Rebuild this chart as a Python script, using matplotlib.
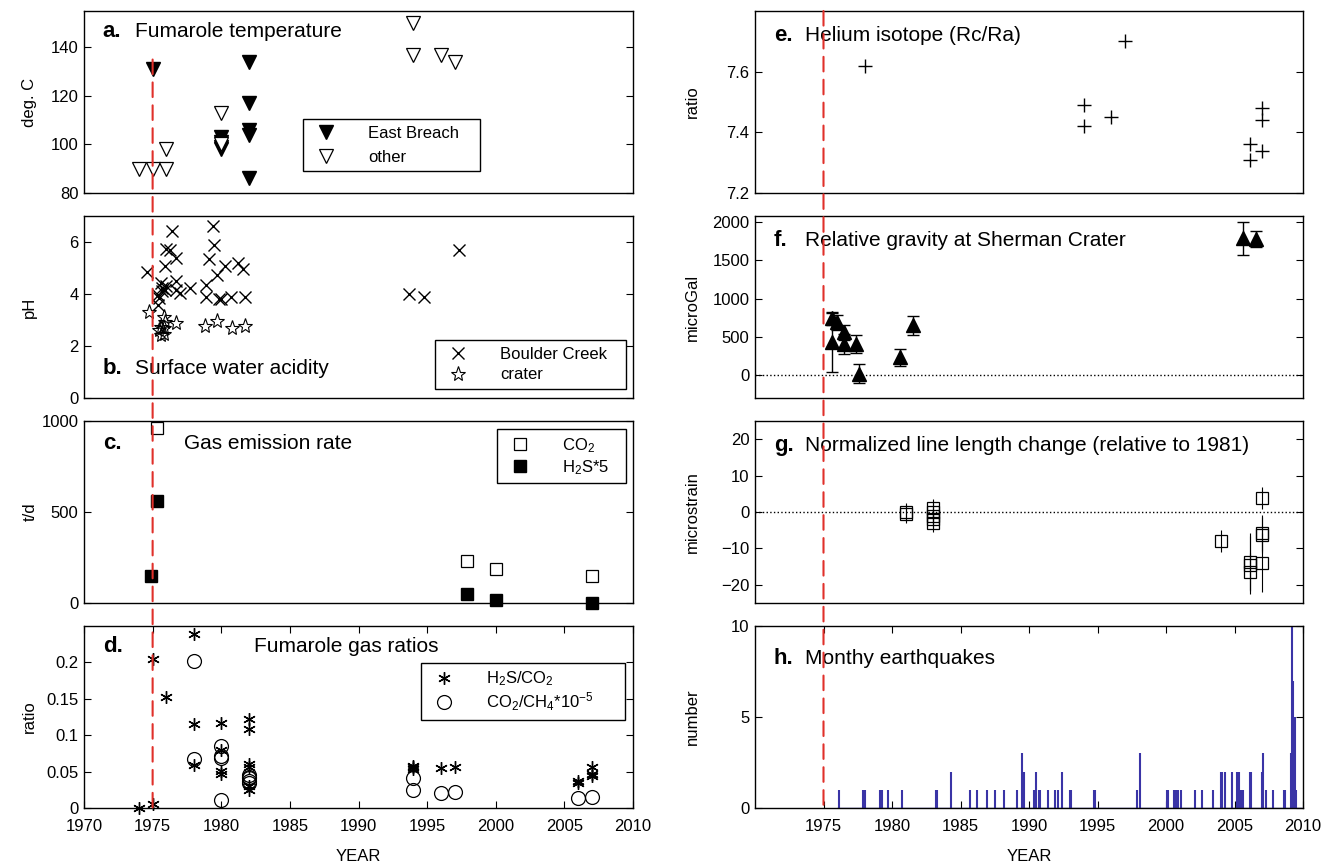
import matplotlib
matplotlib.use('Agg')
import matplotlib.pyplot as plt
from matplotlib.patches import ConnectionPatch
import numpy as np

plt.rcParams['font.family'] = ['Liberation Sans', 'DejaVu Sans']
plt.rcParams['mathtext.default'] = 'regular'
plt.rcParams['axes.linewidth'] = 1.0

# a. fumarole temperature
temp_eb_year = [1975, 1980, 1980, 1980, 1980, 1982, 1982, 1982, 1982, 1982]
temp_eb = [131, 103, 101, 99, 98, 134, 117, 106, 104, 86]
temp_other_year = [1974, 1975, 1976, 1976, 1980, 1980, 1994, 1994, 1996, 1997]
temp_other = [90, 90, 90, 98, 113, 100, 150, 137, 137, 134]

# b. surface water pH
ph_bc_year = [1974.6, 1976.4, 1976.0, 1976.3, 1975.9, 1976.7, 1975.6, 1975.7, 1975.9, 1975.4,
              1975.5, 1975.7, 1976.0, 1975.4, 1976.7, 1976.7, 1977.0, 1977.7, 1978.9, 1978.9,
              1979.1, 1979.4, 1979.5, 1979.7, 1979.8, 1980.0, 1980.3, 1980.7, 1981.2, 1981.6,
              1981.7, 1993.7, 1994.8, 1997.3]
ph_bc = [4.83, 6.41, 5.72, 5.68, 5.06, 5.38, 4.41, 4.22, 4.16, 3.96,
         3.84, 4.10, 4.30, 3.58, 4.50, 4.16, 4.03, 4.22, 4.35, 3.90,
         5.35, 6.60, 5.87, 4.74, 3.80, 3.80, 5.06, 3.90, 5.19, 4.96,
         3.90, 4.00, 3.87, 5.68]
ph_cr_year = [1974.7, 1975.8, 1975.9, 1975.6, 1975.5, 1975.8, 1975.6, 1975.8, 1976.7,
              1978.8, 1979.7, 1980.8, 1981.7]
ph_cr = [3.29, 3.12, 2.93, 2.74, 2.61, 2.48, 2.42, 2.68, 2.87,
         2.78, 2.97, 2.68, 2.78]

# c. gas emission rate
co2_year = [1975.3, 1997.9, 2000.0, 2007.0]
co2_rate = [960, 229, 188, 150]
h2s_year = [1974.9, 1975.3, 1997.9, 2000.0, 2007.0]
h2s_rate = [150, 563, 52, 15, 0]

# d. fumarole gas ratios
h2s_co2_year = [1974, 1975, 1975, 1976, 1978, 1978, 1978, 1980, 1980, 1980, 1980,
                1982, 1982, 1982, 1982, 1982, 1982, 1994, 1994, 1994, 1996, 1997,
                2006, 2006, 2007, 2007, 2007]
h2s_co2 = [0.0, 0.005, 0.205, 0.152, 0.239, 0.116, 0.059, 0.117, 0.080, 0.051, 0.047,
           0.122, 0.108, 0.061, 0.057, 0.030, 0.025, 0.058, 0.056, 0.053, 0.055, 0.056,
           0.037, 0.034, 0.056, 0.047, 0.044]
co2_ch4_year = [1978, 1978, 1980, 1980, 1980, 1980, 1982, 1982, 1982, 1982, 1982,
                1994, 1994, 1996, 1997, 2006, 2007]
co2_ch4 = [0.202, 0.067, 0.085, 0.071, 0.069, 0.011, 0.046, 0.043, 0.041, 0.037, 0.034,
           0.041, 0.025, 0.021, 0.022, 0.014, 0.015]

# e. helium isotope
he_year = [1978.0, 1994.0, 1994.0, 1996.0, 1997.0, 2006.1, 2006.1, 2007.0, 2007.0, 2007.0]
he_ratio = [7.62, 7.49, 7.42, 7.45, 7.70, 7.36, 7.31, 7.48, 7.44, 7.34]

# f. relative gravity
grav_year = [1975.6, 1975.6, 1976.0, 1976.5, 1976.5, 1977.4, 1977.6, 1980.6, 1981.5, 2005.6, 2006.6]
grav = [430, 740, 690, 560, 410, 410, 15, 230, 650, 1790, 1780]
grav_err = [385, 85, 100, 100, 130, 115, 125, 110, 120, 215, 100]

# g. line length change
strain_year = [1981, 1981, 1983, 1983, 1983, 1983, 1983, 2004, 2006.1, 2006.1, 2006.1,
               2007, 2007, 2007, 2007]
strain = [0.0, -0.5, 1.0, 0.0, -1.0, -2.0, -3.0, -7.9, -13.7, -14.6, -16.4,
          3.9, -5.8, -6.3, -13.9]
strain_err = [2.5, 2.5, 2.5, 2.5, 2.5, 2.5, 2.5, 3.0, 8.0, 8.0, 5.0,
              3.0, 5.0, 5.0, 8.0]

# h. monthly earthquakes
quake_start, quake_end = 1976.0, 2009.9
quake_time = [1976.1, 1977.9, 1978.0, 1979.1, 1979.2, 1979.3, 1979.7, 1980.7, 1983.2, 1983.3,
              1984.3, 1985.7, 1986.2, 1986.9, 1987.5, 1988.2, 1989.1, 1989.5, 1989.6, 1990.4,
              1990.5, 1990.7, 1990.8, 1991.4, 1991.9, 1992.1, 1992.4, 1993.0, 1993.1, 1994.75,
              1994.85, 1997.9, 1998.1, 2000.05, 2000.15, 2000.6, 2000.7, 2000.85, 2001.1, 2002.1,
              2002.6, 2003.4, 2004.0, 2004.1, 2004.3, 2004.8, 2005.2, 2005.25, 2005.3, 2005.5,
              2005.65, 2006.1, 2006.2, 2007.0, 2007.1, 2007.3, 2007.8, 2008.6, 2008.7, 2009.1,
              2009.2, 2009.3, 2009.4, 2009.5]
quake_count = [1, 1, 1, 1, 1, 1, 1, 1, 1, 1,
               2, 1, 1, 1, 1, 1, 1, 3, 2, 1,
               2, 1, 1, 1, 1, 1, 2, 1, 1, 1,
               1, 1, 3, 1, 1, 1, 1, 1, 1, 1,
               1, 1, 2, 2, 2, 2, 2, 2, 2, 1,
               1, 2, 2, 2, 3, 1, 1, 1, 1, 3,
               10, 7, 5, 1]

start_year = 1975
red = '#e0302a'
blue = '#3a34a6'

fig = plt.figure(figsize=(13.33, 8.68), dpi=100)
W, H = 1333.0, 868.0
tops = [11, 216, 421, 626]
ph = 182


def make_ax(x0, w, top):
    return fig.add_axes([x0 / W, 1 - (top + ph) / H, w / W, ph / H])


axes_l = [make_ax(84, 549, t) for t in tops]
axes_r = [make_ax(755, 548, t) for t in tops]
ax_a, ax_b, ax_c, ax_d = axes_l
ax_e, ax_f, ax_g, ax_h = axes_r

for ax in axes_l + axes_r:
    ax.set_xlim(1970, 2010)
    ax.tick_params(direction='in', length=5, labelsize=12, right=True, width=0.8, pad=4)
    ax.set_xticks([])

for ax in [ax_d, ax_h]:
    ax.tick_params(axis='x', top=True, bottom=True, pad=8)
ax_d.set_xticks(range(1970, 2011, 5))
ax_h.set_xticks(range(1975, 2011, 5))
ax_d.set_xlabel('YEAR', fontsize=12, labelpad=11)
ax_h.set_xlabel('YEAR', fontsize=12, labelpad=11)


def legend(ax, bbox, spacing):
    ax.legend(loc='upper left', bbox_to_anchor=bbox, fontsize=12, frameon=True,
              fancybox=False, edgecolor='black', framealpha=1, mode='expand',
              handlelength=2.0, handletextpad=1.5, borderaxespad=0,
              labelspacing=spacing, borderpad=0.4)


def label(ax, tag, title, y, tx=0.092):
    ax.text(0.034, y, tag, transform=ax.transAxes, fontsize=16, fontweight='bold', va='center')
    ax.text(tx, y, title, transform=ax.transAxes, fontsize=15, va='center')


# a
ax_a.plot(temp_eb_year, temp_eb, 'v', color='black', ms=10, label='East Breach')
ax_a.plot(temp_other_year, temp_other, 'v', mfc='white', mec='black', mew=0.9, ms=10, label='other')
ax_a.set_ylim(80, 155)
ax_a.set_yticks([80, 100, 120, 140])
ax_a.set_ylabel('deg. C', fontsize=12)
label(ax_a, 'a.', 'Fumarole temperature', 0.885)
legend(ax_a, (0.399, 0.10, 0.322, 0.307), 0.55)

# b
ax_b.plot(ph_bc_year, ph_bc, 'x', color='black', ms=8, mew=1.0, label='Boulder Creek')
ax_b.plot(ph_cr_year, ph_cr, '*', mfc='none', mec='black', mew=0.8, ms=11, label='crater')
ax_b.set_ylim(0, 7)
ax_b.set_yticks([0, 2, 4, 6])
ax_b.set_ylabel('pH', fontsize=12)
label(ax_b, 'b.', 'Surface water acidity', 0.16)
legend(ax_b, (0.639, 0.044, 0.348, 0.275), 0.35)

# c
ax_c.plot(co2_year, co2_rate, 's', mfc='white', mec='black', mew=0.9, ms=8, label='CO$_2$')
ax_c.plot(h2s_year, h2s_rate, 's', color='black', ms=8, label='H$_2$S*5', clip_on=False)
ax_c.set_ylim(0, 1000)
ax_c.set_yticks([0, 500, 1000])
ax_c.set_ylabel('t/d', fontsize=12)
label(ax_c, 'c.', 'Gas emission rate', 0.874, tx=0.183)
legend(ax_c, (0.752, 0.67, 0.235, 0.285), 0.2)

# d
ax_d.plot(h2s_co2_year, h2s_co2, marker=(6, 2, 0), ls='none', color='black', ms=9, mew=1.0,
          label='H$_2$S/CO$_2$', clip_on=False)
ax_d.plot(co2_ch4_year, co2_ch4, 'o', mfc='none', mec='black', mew=0.9, ms=10,
          label='CO$_2$/CH$_4$*10$^{-5}$')
ax_d.set_ylim(0, 0.25)
ax_d.set_yticks([0, 0.05, 0.1, 0.15, 0.2])
ax_d.set_yticklabels(['0', '0.05', '0.1', '0.15', '0.2'])
ax_d.set_ylabel('ratio', fontsize=12)
label(ax_d, 'd.', 'Fumarole gas ratios', 0.885, tx=0.31)
legend(ax_d, (0.614, 0.494, 0.372, 0.303), 0.15)

# e
ax_e.plot(he_year, he_ratio, '+', color='black', ms=10, mew=1.0)
ax_e.set_ylim(7.2, 7.8)
ax_e.set_yticks([7.2, 7.4, 7.6])
ax_e.set_ylabel('ratio', fontsize=12)
label(ax_e, 'e.', 'Helium isotope (Rc/Ra)', 0.868)

# f
ax_f.axhline(0, color='black', ls=':', lw=1)
ax_f.errorbar(grav_year, grav, yerr=grav_err, fmt='^', color='black', ms=10,
              capsize=4, elinewidth=1, capthick=1)
ax_f.set_ylim(-300, 2080)
ax_f.set_yticks([0, 500, 1000, 1500, 2000])
ax_f.set_ylabel('microGal', fontsize=12)
label(ax_f, 'f.', 'Relative gravity at Sherman Crater', 0.868)

# g
ax_g.axhline(0, color='black', ls=':', lw=1)
ax_g.errorbar(strain_year, strain, yerr=strain_err, fmt='s', mfc='none', mec='black',
              ecolor='black', ms=8, mew=0.9, elinewidth=0.8, capsize=0)
ax_g.set_ylim(-25, 25)
ax_g.set_yticks([-20, -10, 0, 10, 20])
ax_g.set_ylabel('microstrain', fontsize=12)
label(ax_g, 'g.', 'Normalized line length change (relative to 1981)', 0.863)

# h
ax_h.hlines(0, quake_start, quake_end, color=blue, lw=1.0)
ax_h.vlines(quake_time, 0, quake_count, color=blue, lw=1.5)
ax_h.set_ylim(0, 10)
ax_h.set_yticks([0, 5, 10])
ax_h.set_ylabel('number', fontsize=12)
label(ax_h, 'h.', 'Monthy earthquakes', 0.824)

for ax in axes_l:
    ax.yaxis.set_label_coords(-0.085, 0.5)
for ax in axes_r:
    ax.yaxis.set_label_coords(-0.1, 0.5)

# red dashed 1975 line across each column
for top_ax, top_y, bot_ax in [(ax_a, 135, ax_d), (ax_e, 7.8, ax_h)]:
    con = ConnectionPatch(xyA=(start_year, top_y), coordsA=top_ax.transData,
                          xyB=(start_year, 0), coordsB=bot_ax.transData,
                          color=red, lw=1.5, linestyle=(0, (7, 4)))
    fig.add_artist(con)

fig.savefig('out.png', dpi=100)
